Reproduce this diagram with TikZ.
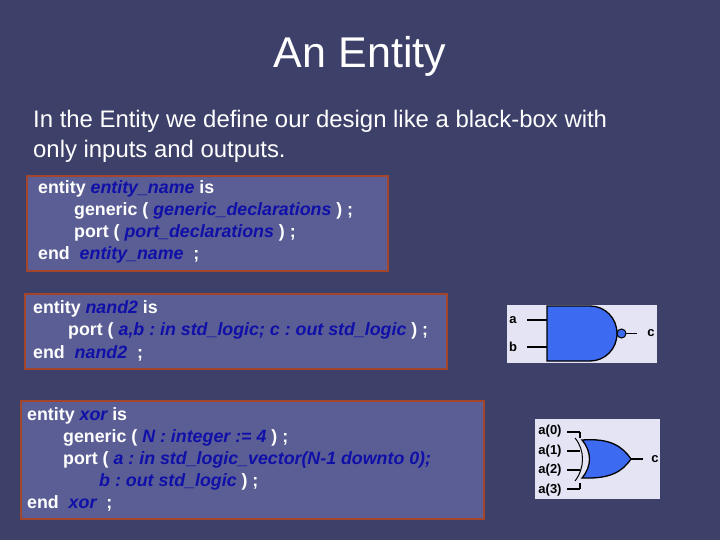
\documentclass[tikz,border=0pt]{standalone}
\usepackage{fontspec}
\setmainfont{Liberation Sans}
\begin{document}
\frenchspacing
\begin{tikzpicture}[x=1pt,y=-1pt,
  code/.style={anchor=west,text=white,font=\bfseries\fontsize{17.8}{19}\selectfont,inner sep=0},
  box/.style={draw=boxred,line width=2.5pt,fill=boxfill},
  panel/.style={fill=panelc,draw=none},
  gate/.style={fill=gateblue,draw=black,line width=1.3pt},
  wire/.style={draw=black,line width=1.3pt},
  lab/.style={font=\bfseries\fontsize{13}{14}\selectfont,text=black,inner sep=0}]
\definecolor{bg}{HTML}{3D4068}
\definecolor{boxfill}{HTML}{5A5E94}
\definecolor{boxred}{HTML}{A2452C}
\definecolor{vblue}{HTML}{1010A8}
\definecolor{panelc}{HTML}{E4E4F4}
\definecolor{gateblue}{HTML}{3C6AF0}
\newcommand{\vb}[1]{\textcolor{vblue}{\itshape #1}}
\fill[bg] (0,0) rectangle (720,540);
\useasboundingbox (0,0) rectangle (720,540);
\node[text=white,font=\fontsize{43}{46}\selectfont] (title) at (360,56) {An Entity};
\node[anchor=west,text=white,font=\fontsize{23.9}{30}\selectfont,align=left,inner sep=0] (intro) at (33,136) {In the Entity we define our design like a black-box with\\only inputs and outputs.};
% box 1
\draw[box] (27,176) rectangle (388,271);
\node[code] (l1) at (38,189) {entity \vb{entity\_name} is};
\node[code] (l2) at (74,211) {generic ( \vb{generic\_declarations} ) ;};
\node[code] (l3) at (74,233) {port ( \vb{port\_declarations} ) ;};
\node[code] (l4) at (38,255) {end \ \vb{entity\_name} \ ;};
% box 2
\draw[box] (25,294) rectangle (447,369);
\node[code] (m1) at (33,309) {entity \vb{nand2} is};
\node[code] (m2) at (68,331) {port ( \vb{a,b : in std\_logic; c : out std\_logic} ) ;};
\node[code] (m3) at (33,353) {end \ \vb{nand2} \ ;};
% box 3
\draw[box] (21,401) rectangle (484,519);
\node[code] (n1) at (27,416) {entity \vb{xor} is};
\node[code] (n2) at (63,438) {generic ( \vb{N : integer := 4} ) ;};
\node[code] (n3) at (63,460) {port ( \vb{a : in std\_logic\_vector(N-1 downto 0);}};
\node[code] (n4) at (99,482) {\vb{b : out std\_logic} ) ;};
\node[code] (n5) at (27,503) {end \ \vb{xor} \ ;};
% nand panel
\fill[panel] (507,305) rectangle (657,363);
\draw[wire] (527,320) -- (547,320);
\draw[wire] (527,347) -- (547,347);
\draw[gate] (547,306) -- (590,306) .. controls (605,306) and (617,318) .. (617,333.5)
  .. controls (617,349) and (605,361) .. (590,361) -- (547,361) -- cycle;
\draw[gate,line width=1pt] (621.5,333.5) circle (4.5);
\draw[wire] (626,333.5) -- (637,333.5);
\node[lab] (na) at (513,320) {a};
\node[lab] (nb) at (513,347) {b};
\node[lab] (nc) at (651,333) {c};
% xor panel
\fill[panel] (535,419) rectangle (660,499);
\foreach \yy in {432,451,470,489} \draw[wire] (567,\yy) -- (580,\yy);
\draw[wire] (580,432) -- (580,438);
\draw[wire] (580,489) -- (580,483);
\draw[gate] (582,440) .. controls (610,438) and (622,446) .. (631,459)
  .. controls (622,472) and (610,479) .. (582,478)
  .. controls (592,466) and (592,452) .. cycle;
\draw[wire,line width=1pt] (575,438) .. controls (585,450) and (585,468) .. (575,481);
\draw[wire] (631,459) -- (643,459);
\node[lab] (x0) at (550,431) {a(0)};
\node[lab] (x1) at (550,451) {a(1)};
\node[lab] (x2) at (550,470) {a(2)};
\node[lab] (x3) at (550,490) {a(3)};
\node[lab] (xc) at (655,459) {c};
\end{tikzpicture}
\end{document}
